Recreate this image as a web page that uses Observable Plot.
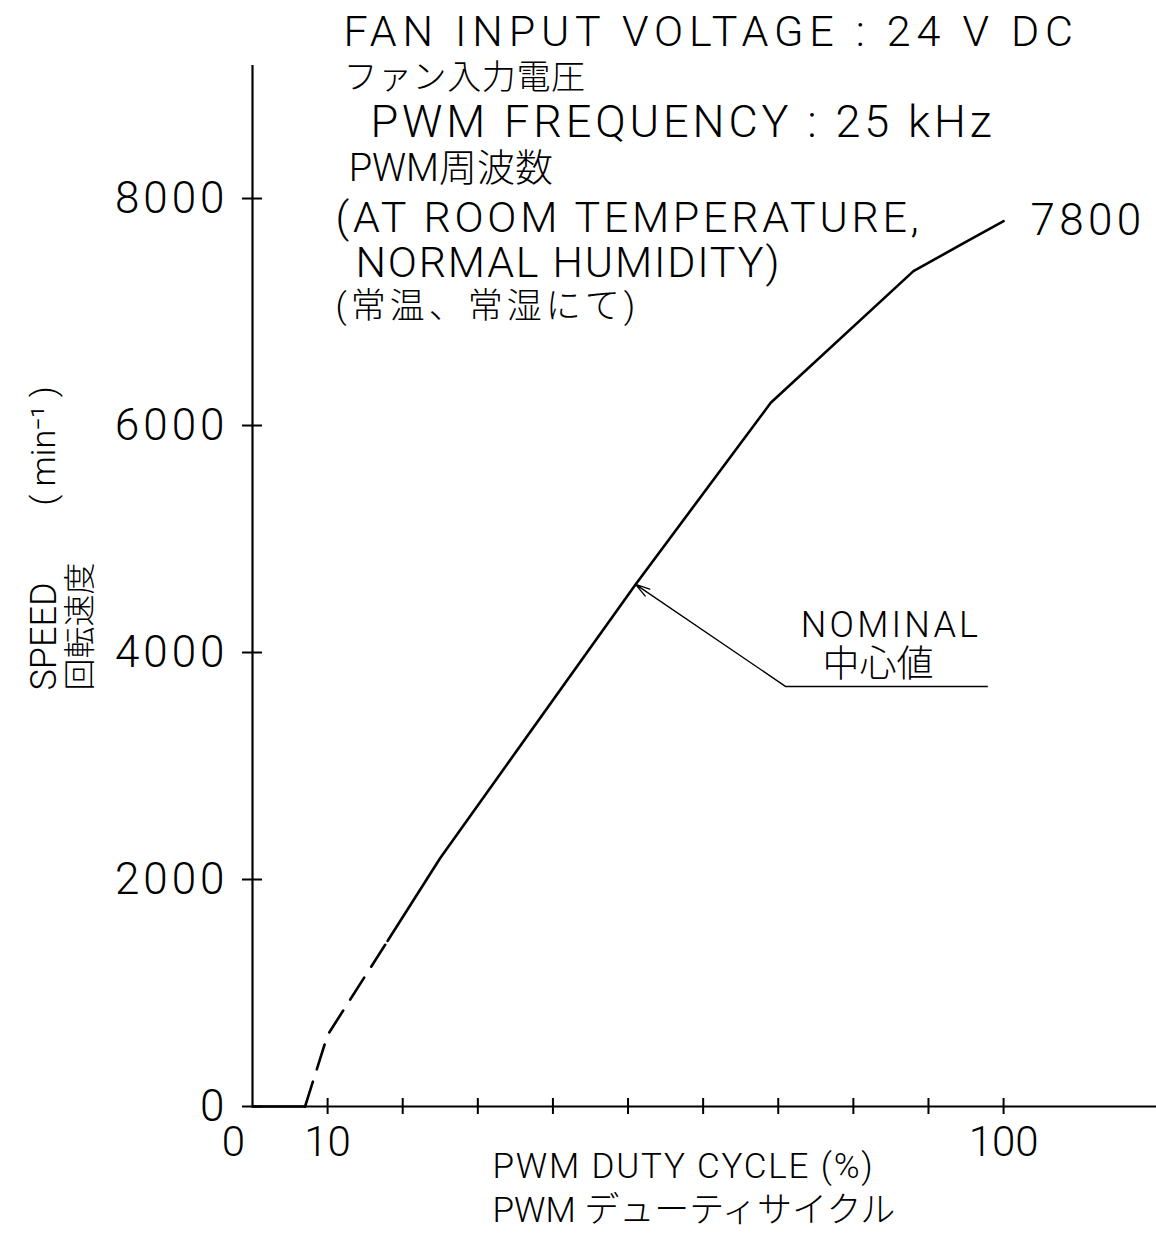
<!DOCTYPE html>
<html><head><meta charset="utf-8">
<script src="https://cdn.jsdelivr.net/npm/d3@7"></script>
<script src="https://cdn.jsdelivr.net/npm/@observablehq/plot@0.6"></script>
<style>
body{margin:0;background:#fff;}
svg text{font-family: Roboto, "Noto Sans CJK JP", "DejaVu Sans", sans-serif; font-weight:300;}
</style></head><body><div id="chart"></div>
<script>
// ---- data ----
const dutyCycle = [0, 7, 10, 18, 25, 51, 69, 88, 94.5, 100];      // PWM duty cycle (%)
const speedRpm  = [0, 0, 630, 1460, 2190, 4600, 6200, 7360, 7600, 7800]; // min^-1
const dashedFrom = 7, dashedTo = 18;   // estimated (dashed) part of the curve
const yTicks = [0, 2000, 4000, 6000, 8000];
const xTicks = [10, 20, 30, 40, 50, 60, 70, 80, 90, 100];
const xTickLabels = [10, 100];
const xZeroLabel = "0";
const titleLines = ["FAN INPUT VOLTAGE : 24 V DC", "ファン入力電圧", "PWM FREQUENCY : 25 kHz", "PWM周波数", "(AT ROOM TEMPERATURE,", "NORMAL HUMIDITY)", "(常温、常湿にて)"];
const nominalLabel = ["NOMINAL", "中心値"];
const xTitle = ["PWM DUTY CYCLE (%)", "PWM デューティサイクル"];
const yTitle = ["SPEED", "回転速度", "( min⁻¹ )"];

// ---- layout (annotation anchors in data units, font sizes, spacing) ----
const layout = {
  titleX: [12.1, 12.1, 15.7, 12.8, 11.05, 13.7, 11.05],
  titleY: [9463, 9057, 8670, 8264, 7830, 7430, 7050],
  titleSize: [43, 34, 45, 38, 43, 43, 35],
  titleSpacing: [5.8, 0.6, 3.9, 0, 3.7, 1.8, 4],
  nominalIndex: 5,
  elbow: {x: 71, y: 3700}, leaderEnd: {x: 97.9, y: 3700},
  nominalText: [{x: 73, y: 4238, size: 36, spacing: 3.2}, {x: 75.9, y: 3885, size: 37, spacing: 0}],
  xTitleX: 31.95, xTitleDy: [71, 115], xTitleSize: [35, 35], xTitleSpacing: [1.8, 0],
  yTitleY: [3665, 3665, 5295], yTitleDx: [-208, -172, -208], yTitleSize: [36, 32, 34]
};

const pts = dutyCycle.map((d, i) => ({duty: d, speed: speedRpm[i]}));
const flat = pts.filter(p => p.duty <= dashedFrom);
const dashed = pts.filter(p => p.duty >= dashedFrom && p.duty <= dashedTo);
const solid = pts.filter(p => p.duty >= dashedTo);
const endPt = pts[pts.length - 1];
const nom = pts[layout.nominalIndex];

const titles = titleLines.map((t, i) => ({t, x: layout.titleX[i], y: layout.titleY[i], s: layout.titleSize[i]}));

const spacing = new Map();
titleLines.forEach((t, i) => spacing.set(t, layout.titleSpacing[i]));
nominalLabel.forEach((t, i) => spacing.set(t, layout.nominalText[i].spacing));
xTitle.forEach((t, i) => spacing.set(t, layout.xTitleSpacing[i]));
yTicks.forEach(t => spacing.set(String(t), 4));
spacing.set(String(endPt.speed), 4.3);

const chart = Plot.plot({
  width: 1156, height: 1242,
  marginLeft: 252, marginRight: 0, marginTop: 65, marginBottom: 136,
  x: {domain: [0, 120.36], axis: null},
  y: {domain: [0, 9172], axis: null},
  style: {background: "white", color: "black", overflow: "visible"},
  marks: [
    Plot.ruleX([0], {stroke: "black", strokeWidth: 2.2}),
    Plot.ruleY([0], {stroke: "black", strokeWidth: 2.2}),
    Plot.axisY({ticks: yTicks, tickSize: 20, dx: 10, strokeWidth: 2, tickFormat: () => "", label: null}),
    Plot.axisY({ticks: yTicks, tickSize: 0, tickPadding: 24, fontSize: 44, fontWeight: 300, tickFormat: d => String(d), label: null}),
    Plot.axisX({ticks: xTicks, tickSize: 16, dy: -8, strokeWidth: 2, tickFormat: () => "", label: null}),
    Plot.axisX({ticks: xTickLabels, tickSize: 0, tickPadding: 20, fontSize: 42, fontWeight: 300, tickFormat: d => String(d), label: null}),
    Plot.text([xZeroLabel], {x: () => 0, frameAnchor: "bottom", text: d => d, dx: -17, dy: 20, lineAnchor: "top", fontSize: 42}),
    Plot.line(flat, {x: "duty", y: "speed", stroke: "black", strokeWidth: 2.6}),
    Plot.line(dashed, {x: "duty", y: "speed", stroke: "black", strokeWidth: 2.6, strokeDasharray: "26,13"}),
    Plot.line(solid, {x: "duty", y: "speed", stroke: "black", strokeWidth: 2.6}),
    Plot.text([endPt], {x: "duty", y: "speed", text: d => String(d.speed), dx: 27, textAnchor: "start", fontSize: 44}),
    Plot.arrow([nom], {x1: () => layout.elbow.x, y1: () => layout.elbow.y, x2: "duty", y2: "speed", headLength: 16, headAngle: 32, strokeWidth: 1.4, stroke: "black"}),
    Plot.link([0], {x1: () => layout.elbow.x, y1: () => layout.elbow.y, x2: () => layout.leaderEnd.x, y2: () => layout.leaderEnd.y, strokeWidth: 1.6, stroke: "black"}),
    Plot.text(nominalLabel, {x: (d, i) => layout.nominalText[i].x, y: (d, i) => layout.nominalText[i].y, text: d => d, textAnchor: "start", fontSize: (d, i) => layout.nominalText[i].size}),
    Plot.text(titles, {x: "x", y: "y", text: "t", fontSize: "s", textAnchor: "start"}),
    ...xTitle.map((t, i) => Plot.text([t], {x: () => layout.xTitleX, frameAnchor: "bottom", text: d => d, textAnchor: "start", dy: layout.xTitleDy[i], fontSize: layout.xTitleSize[i]})),
    ...yTitle.map((t, i) => Plot.text([t], {frameAnchor: "left", y: () => layout.yTitleY[i], text: d => d, rotate: -90, textAnchor: "start", fontSize: layout.yTitleSize[i], dx: layout.yTitleDx[i]}))
  ]
});
document.getElementById("chart").appendChild(chart);

// letter spacing of the drafting-style lettering
d3.select(chart).selectAll("text").each(function() {
  const s = spacing.get(this.textContent);
  if (s) this.style.letterSpacing = s + "px";
});
</script></body></html>
